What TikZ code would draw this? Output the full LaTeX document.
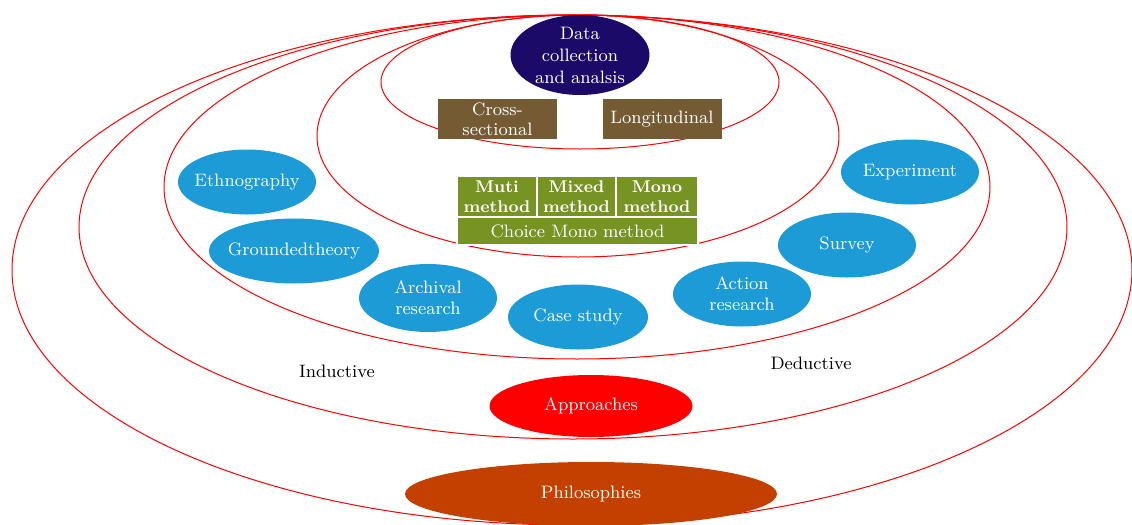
\documentclass[tikz,border=0pt]{standalone}
\usetikzlibrary{shapes.geometric}

\definecolor{ringred}{RGB}{255,0,0}
\definecolor{navyblob}{RGB}{27,10,103}
\definecolor{horizonbrown}{RGB}{117,91,51}
\definecolor{choicegreen}{RGB}{119,147,35}
\definecolor{strategyblue}{RGB}{29,155,215}
\definecolor{approachred}{RGB}{255,0,0}
\definecolor{philobrown}{RGB}{196,64,0}

\tikzset{
  blob/.style={ellipse, draw=none, inner sep=0pt},
  blobtext/.style={text=white, align=center, font=\fontsize{9}{10.5}\selectfont},
  cell/.style={rectangle, draw=white, line width=0.8pt, fill=choicegreen, text=white,
               align=center, inner sep=0pt, minimum height=20.5pt},
  horizon/.style={rectangle, fill=horizonbrown, text=white, align=center, inner sep=0pt,
                  minimum width=59.5pt, minimum height=20pt, font=\fontsize{9}{10}\selectfont}
}

\begin{document}
\begin{tikzpicture}[x=0.5pt,y=-0.5pt]
\useasboundingbox (0,0) rectangle (1132,525);

% onion layers
\begin{scope}[draw=ringred, line width=0.5pt]
	\draw (572,270) ellipse [x radius=280pt, y radius=127.5pt];
	\draw (573,227) ellipse [x radius=247pt, y radius=106pt];
	\draw (577,187) ellipse [x radius=206.5pt, y radius=86pt];
	\draw (578,136) ellipse [x radius=130.5pt, y radius=60.5pt];
	\draw (580,82) ellipse [x radius=99.5pt, y radius=33.5pt];
\end{scope}

\node[blob, fill=navyblob, minimum width=69.5pt, minimum height=40pt,
      label={[blobtext, font=\fontsize{9}{11}\selectfont]center:{Data\\collection\\and analsis}}] (data) at (580,55) {};

\node[horizon] (cross) at (497.5,119) {Cross-\\sectional};
\node[horizon] (longi) at (662,119) {Longitudinal};

\begin{scope}[every node/.style={cell, font=\bfseries\fontsize{8.5}{10}\selectfont}]
	\node[minimum width=40pt] (muti) at (497,196.5) {Muti\\method};
	\node[minimum width=39.5pt] (mixed) at (576.5,196.5) {Mixed\\method};
	\node[minimum width=41pt] (mono) at (657,196.5) {Mono\\method};
\end{scope}
\node[cell, minimum width=120.5pt, minimum height=14pt, font=\fontsize{9}{10}\selectfont] (choice) at (577.5,231) {Choice Mono method};

\begin{scope}[every node/.style={blob, fill=strategyblue, minimum width=69pt, minimum height=32.5pt}]
	\node[label={[blobtext]center:Ethnography}] (ethno) at (247,182) {};
	\node[minimum width=85pt, label={[blobtext]center:Groundedtheory}] (grounded) at (294,251) {};
	\node[minimum height=34pt, label={[blobtext]center:{Archival\\research}}] (archival) at (428,298) {};
	\node[minimum width=70pt, label={[blobtext]center:Case study}] (casestudy) at (578,317) {};
	\node[label={[blobtext]center:{Action\\research}}] (action) at (742,294) {};
	\node[label={[blobtext]center:Survey}] (survey) at (847,245) {};
	\node[label={[blobtext]center:Experiment}] (experiment) at (910,172) {};
\end{scope}

\node[font=\fontsize{9}{10.5}\selectfont] (inductive) at (337,371) {Inductive};
\node[font=\fontsize{9}{10.5}\selectfont] (deductive) at (811,363) {Deductive};

\node[blob, fill=approachred, minimum width=101.5pt, minimum height=31pt,
      label={[blobtext]center:Approaches}] (approaches) at (591,406) {};
\node[blob, fill=philobrown, minimum width=186pt, minimum height=32pt,
      label={[blobtext]center:Philosophies}] (philosophies) at (591,494) {};

\end{tikzpicture}
\end{document}
